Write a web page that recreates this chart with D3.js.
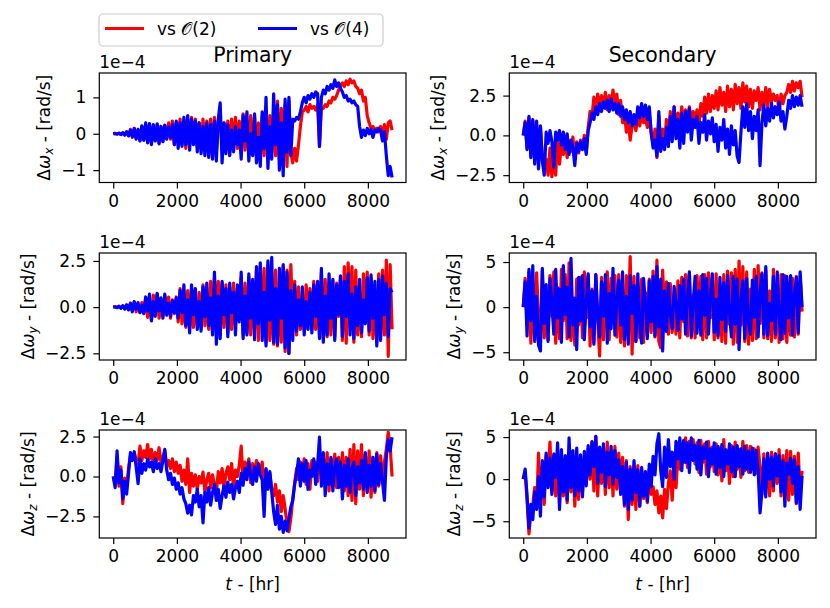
<!DOCTYPE html>
<html><head><meta charset="utf-8">
<script src="https://cdn.jsdelivr.net/npm/d3@7"></script>
<style>body{margin:0;background:#fff} text{font-family:"DejaVu Sans",sans-serif;fill:#000}</style>
</head><body><svg id="c" width="830" height="608"></svg>
<script>
// time axis [hr], sampled every 60 hr (0 .. 8760)
const time = d3.range(0, 8761, 60);
const xTicks = [0, 2000, 4000, 6000, 8000];
const seriesNames = ["vs \u{1D4AA}(2)", "vs \u{1D4AA}(4)"];
const columnTitles = ["Primary", "Secondary"];
const components = ["x", "y", "z"];

// values in units of 1e-4 rad/s
const primaryX_O2 = [
0,0.01,-0.01,0.01,-0.02,0.02,-0.04,0.06,-0.05,0.12,
-0.1,0.14,-0.12,0.1,-0.18,0.2,-0.16,0.25,-0.2,0.22,
-0.25,0.22,-0.18,0.25,-0.25,0.2,-0.2,0.22,-0.12,0.3,
-0.15,0.35,-0.3,0.3,-0.25,0.4,-0.3,0.3,-0.4,0.35,
-0.3,0.45,-0.2,0.4,-0.35,0.3,-0.4,0.4,-0.3,0.35,
-0.5,0.4,-0.4,0.45,-0.5,0.35,0.5,-0.45,0.3,-0.3,
0.35,-0.4,0.4,-0.3,0.45,-0.4,0.35,-0.5,0.55,-0.45,
0.3,-0.5,0.5,-0.4,0.45,-0.6,0.3,-0.65,0.5,-0.6,
0.6,-0.7,0.5,-0.5,0.65,-0.6,0.9,-0.7,0.7,-0.8,
0.8,-0.9,0.9,-0.5,-0.8,-0.4,-0.75,-0.3,0.2,0.6,
0.65,0.75,0.6,0.8,0.7,0.75,0.65,0.8,-0.35,0.7,
0.7,0.8,0.75,0.9,0.85,1.0,0.95,1.05,1.2,1.3,
1.4,1.3,1.45,1.35,1.5,1.4,1.45,1.3,1.25,1.1,
1.2,0.9,1.0,0.5,0.3,0.15,0.2,0.1,0.15,0.05,
0.2,0.0,0.25,-0.15,0.3,0.35,0.1];
const primaryX_O4 = [
0,0.01,-0.01,0.02,-0.02,0.03,-0.03,0.05,-0.06,0.1,
-0.08,0.15,-0.15,0.12,-0.2,0.22,-0.18,0.3,-0.25,0.28,
-0.3,0.25,-0.2,0.27,-0.28,0.2,-0.22,0.24,-0.15,0.18,
-0.1,0.25,-0.3,0.35,-0.4,0.3,-0.35,0.45,-0.3,0.5,
-0.45,0.4,-0.3,0.35,-0.5,0.3,-0.55,0.2,-0.6,0.3,
-0.65,0.25,-0.7,0.35,-0.75,0.4,0.85,-0.8,0.3,-0.55,
0.25,-0.6,0.1,-0.5,0.2,-0.3,0.1,-0.7,0.5,-0.2,
0.6,-0.75,0.0,-0.6,0.55,-0.8,-0.1,-0.9,0.6,-0.4,
1.0,-0.95,0.2,-0.7,1.1,-0.3,0.8,-1.0,0.3,-1.15,
0.95,-0.5,1.0,-0.6,0.4,0.35,0.45,0.4,0.6,0.85,
1.0,0.85,1.05,0.95,1.1,1.0,1.15,1.1,-0.35,1.0,
1.2,1.1,1.3,1.2,1.35,1.25,1.48,1.3,1.4,1.25,
1.15,1.0,1.05,0.9,0.95,0.85,0.9,0.8,0.75,0.2,
-0.1,0.1,-0.05,0.15,0.0,0.12,-0.1,0.1,0.05,0.15,
0.1,-0.2,0.05,-0.6,-1.15,-0.9,-1.2];

const secondaryX_O2 = [
0,0.9,-0.8,1.1,-1.3,0.9,-1.5,0.7,-1.8,0.5,
-1.4,-2.3,-1.5,-2.5,-0.8,-2.6,-1.2,-2.5,0.1,-1.8,
-0.5,-1.2,-0.2,-1.4,-0.6,-1.0,-0.1,-1.5,-0.4,-1.1,
-0.3,-0.8,0.0,-1.0,0.5,1.5,1.2,2.4,1.5,2.6,
1.8,2.5,1.9,2.7,1.6,2.5,2.0,2.85,1.7,2.6,
1.3,2.2,0.8,1.4,0.2,1.0,-0.3,0.6,0.9,0.3,
1.2,0.6,1.4,0.8,1.1,0.5,1.3,0.1,-0.6,0.4,
-1.4,1.2,-0.8,0.4,-0.6,1.0,-0.3,1.5,0.1,1.8,
0.3,1.4,0.5,1.8,0.7,1.6,0.9,1.8,0.8,1.5,
1.0,1.6,0.6,2.0,1.2,2.4,1.4,2.6,1.5,2.5,
1.7,2.8,1.6,3.0,1.9,2.7,1.5,3.1,1.8,2.9,
1.6,3.2,2.0,3.0,1.7,3.3,2.1,3.1,1.8,2.9,
1.7,2.8,2.2,3.0,1.6,2.7,1.9,3.0,1.8,2.9,
2.1,2.6,2.2,2.5,1.4,2.6,2.0,2.5,2.7,3.2,
2.7,3.4,2.8,3.3,3.0,3.4,2.4];
const secondaryX_O4 = [
0,0.8,-0.9,1.2,-1.4,1.0,-1.8,0.9,-2.1,0.6,
-1.6,-2.5,0.2,-0.5,0.3,-0.4,-2.0,0.2,-0.3,0.3,
-0.6,0.2,-0.9,0.1,-1.2,-0.3,-0.8,-1.9,-0.5,-1.0,
-0.4,-0.9,-0.2,-1.2,0.3,0.8,1.4,1.0,1.8,1.3,
2.0,1.5,2.1,1.7,2.2,1.5,2.3,1.6,2.0,1.4,
2.0,1.2,1.8,1.0,1.6,0.8,1.5,0.6,1.3,0.7,
1.8,1.1,2.0,1.2,1.9,1.0,1.8,0.2,-0.8,-0.3,
-1.3,1.5,-1.0,-0.2,-0.9,0.5,-0.7,1.2,-0.4,1.8,
-0.2,1.0,-0.8,1.4,-0.5,1.5,0.2,1.7,-0.3,1.0,
0.5,1.2,-0.5,0.8,0.2,1.3,-0.3,0.9,0.1,1.1,
-0.4,0.7,-1.0,0.5,-0.3,1.0,-0.8,0.4,-1.2,0.6,
-0.6,0.3,-1.3,-1.7,0.2,1.8,0.5,2.0,0.3,1.5,
-0.2,1.2,0.3,1.6,-1.9,0.8,1.9,0.6,1.7,0.9,
2.0,1.1,1.8,1.3,2.1,0.9,1.5,0.4,1.2,2.2,
1.7,2.5,1.8,2.4,1.9,2.5,1.8];

const primaryY_O2 = [
0,0.02,-0.02,0.04,-0.05,0.07,-0.09,0.12,-0.13,0.22,
-0.2,0.28,-0.25,0.1,-0.28,0.25,-0.3,0.5,-0.55,0.3,
-0.7,0.65,-0.2,0.7,-0.6,0.2,-0.5,0.6,-0.45,0.55,
-0.6,0.4,-0.35,0.55,-0.8,1.0,-0.9,0.3,-1.1,0.9,
-1.2,1.0,-1.1,0.4,-1.0,0.8,-1.1,1.2,-1.0,0.3,
-1.2,1.4,-1.3,1.6,-0.5,1.4,-1.5,1.3,-1.1,1.2,
-1.4,0.4,-1.2,1.3,-1.0,1.0,-0.4,1.6,-1.5,1.3,
-1.4,1.6,-1.5,0.6,-1.2,2.0,-1.8,2.2,-0.7,2.1,
-1.9,2.3,-1.8,0.9,-2.0,2.0,-2.1,0.8,-1.9,2.2,
-2.4,2.0,-2.5,2.3,-0.8,1.4,-1.5,1.1,-1.2,0.4,
-1.3,1.2,-0.5,1.0,-1.2,1.4,-1.2,0.6,-1.5,1.9,
-1.7,1.5,-1.6,0.7,-1.5,1.4,-1.6,1.3,-0.5,1.6,
-1.8,2.2,-1.95,2.4,-0.7,2.2,-1.9,2.0,-1.5,0.8,
-1.6,1.8,-0.6,1.9,-1.5,1.6,-1.7,0.5,-1.9,1.8,
-1.6,2.0,-1.5,2.55,-2.66,2.3,-1.2];
const primaryY_O4 = [
0,0.02,-0.03,0.05,-0.06,0.08,-0.1,0.12,-0.15,0.2,
-0.25,0.3,-0.1,0.25,-0.3,0.1,-0.35,0.55,-0.2,0.7,
-0.75,0.3,-0.5,0.75,-0.2,0.5,-0.6,0.7,-0.4,0.2,
-0.5,0.35,-0.3,0.5,-0.6,0.9,-0.3,1.2,-1.0,0.4,
-1.4,1.2,-0.4,1.0,-1.2,0.3,-1.3,1.1,-0.5,1.3,
-1.0,0.5,-1.5,1.9,-2.0,0.6,-1.7,1.4,-0.4,1.0,
-1.6,1.3,-0.3,0.8,-1.5,1.2,-0.8,1.9,-1.7,0.6,
-1.5,1.8,-0.6,1.5,-1.76,2.2,-0.9,2.4,-1.8,0.8,
-2.1,2.5,-0.7,2.7,-1.9,1.0,-2.0,2.1,-0.6,2.3,
-2.2,1.9,-2.5,0.9,-1.8,1.2,-1.3,0.4,-1.0,1.1,
-1.5,0.3,-1.2,0.8,-1.4,1.2,-0.5,1.4,-1.7,2.1,
-1.9,0.6,-1.5,1.8,-0.6,1.5,-1.8,1.2,-0.4,1.7,
-1.6,1.4,-0.5,1.8,-1.5,0.7,-1.7,1.1,-1.0,1.5,
-1.4,0.4,-0.9,1.6,-1.3,1.75,-0.6,1.4,-2.1,1.5,
-1.8,1.7,-0.4,1.3,-1.6,1.0,0.8];

const secondaryY_O2 = [
0,3.2,-2.0,3.9,-4.0,2.5,-3.6,3.8,-1.2,-4.0,
4.0,-3.4,1.5,-3.6,3.5,-1.0,3.9,-4.0,2.2,-3.5,
4.2,-1.5,3.6,-3.5,4.9,-3.7,0.8,-4.2,3.1,-2.0,
3.3,-3.4,3.9,-1.2,3.4,-4.3,2.0,-3.9,3.6,-1.6,
-5.4,3.3,-3.6,1.4,3.9,-3.6,3.2,-1.8,3.5,-3.3,
3.6,-3.9,1.5,-4.3,3.5,-2.0,5.6,-5.2,3.4,-3.8,
2.2,-3.4,3.1,-3.9,1.6,-3.1,3.1,-2.8,4.0,-3.3,
5.2,-3.8,-4.5,4.1,-1.4,2.8,-3.0,2.6,-2.8,1.2,
-3.0,2.9,-3.4,3.3,-1.6,3.6,-3.2,3.7,-3.4,1.4,
-3.4,3.5,-1.2,3.4,-3.6,3.6,-3.4,3.8,-1.2,3.2,
-3.6,3.7,-3.4,1.9,-3.8,3.6,-4.0,4.0,-1.9,3.8,
-4.1,4.2,-3.9,5.1,-2.0,4.5,-3.8,3.9,-4.1,2.0,
-3.7,4.2,-3.5,4.6,-1.8,3.8,-3.4,4.1,-3.5,1.8,
-3.8,4.2,-3.4,1.8,-3.9,3.6,-3.5,3.5,-3.9,1.4,
-3.1,3.2,-3.3,3.4,-3.0,3.4,-0.5];
const secondaryY_O4 = [
0,2.8,-3.2,4.2,-1.5,4.6,-3.8,1.2,-4.2,-4.85,
4.3,-1.8,2.5,-3.8,3.2,0.5,-3.0,4.2,-1.2,2.0,
-3.9,4.6,-0.8,2.2,-3.3,5.4,-2.0,1.0,-4.7,3.3,
-1.5,3.5,-3.6,0.6,3.7,-2.2,1.8,-4.1,3.6,-0.9,
-3.3,2.8,-1.0,3.6,-4.0,1.5,-2.4,4.3,-3.1,0.8,
3.0,-2.0,3.9,-3.6,1.2,-4.1,3.5,-0.7,2.4,-3.8,
3.7,-1.8,-4.0,3.2,0.4,-3.5,2.9,-1.6,3.4,-3.2,
4.5,-2.2,3.1,-4.85,1.8,-2.7,2.6,-0.8,-2.4,2.3,
0.5,-2.6,2.4,-1.3,3.1,-3.0,1.0,3.9,-3.2,0.6,
3.4,-2.9,1.8,-3.1,3.6,-0.9,3.2,-3.0,1.1,3.7,
-2.8,0.9,-3.2,3.3,-1.4,2.7,-2.7,3.5,-0.6,-3.3,
3.4,-1.9,3.1,-4.7,0.8,2.9,-3.5,3.2,-1.8,-3.0,
3.0,-1.1,3.4,-3.3,1.6,3.7,-3.0,4.5,-3.2,0.4,
-1.5,3.4,-3.0,3.9,-0.9,-3.6,3.6,-2.9,3.4,-1.2,
3.5,-3.1,1.4,3.3,-2.8,3.9,0.0];

const primaryZ_O2 = [
0,-0.5,1.2,-0.6,0.6,-1.7,-0.1,-0.8,0.5,1.3,
1.2,1.5,1.0,0.8,1.9,1.0,1.6,1.2,2.0,1.1,
1.7,0.8,1.5,1.0,1.8,0.9,1.2,1.6,0.6,1.0,
0.5,1.1,0.3,0.9,0.2,0.7,-0.3,0.4,-0.5,1.1,
-1.0,0.2,-0.6,0.1,-0.8,0.0,-0.4,0.27,-1.0,-0.2,
0.2,-0.7,0.1,-0.5,-1.0,0.3,-0.4,0.5,-0.8,0.2,
0.6,-0.2,0.8,-0.7,0.4,0.0,0.7,1.9,-0.3,0.9,
0.3,1.1,-0.4,0.8,0.2,1.0,0.6,0.3,0.9,-0.5,
0.4,-0.6,0.2,-0.8,-1.2,-0.5,-1.6,-0.9,-2.2,-1.2,
-2.0,-3.0,-3.45,-2.6,-1.4,-0.4,0.5,-0.2,0.9,0.2,
1.1,-0.5,0.8,-0.8,1.0,0.2,0.9,-0.3,1.2,0.4,
1.3,-0.6,1.5,-0.9,1.1,0.0,1.4,-0.7,1.2,-0.4,
1.5,-0.9,1.2,-1.2,1.7,-1.5,2.0,-1.7,1.6,-0.8,
2.0,-1.2,1.4,-0.9,1.6,-1.3,1.2,-1.0,1.5,-0.6,
1.3,-0.4,0.9,1.7,2.77,1.9,0.0];
const primaryZ_O4 = [
0,-0.7,1.6,-0.4,0.4,-1.4,-0.3,-1.1,0.2,1.5,
1.0,1.55,0.6,-0.45,1.1,0.2,0.8,0.4,1.1,0.6,
0.9,0.3,1.1,0.5,0.8,0.3,1.0,1.7,0.4,-0.2,
0.2,-0.5,-0.1,-0.8,-0.4,-1.1,-0.7,-1.4,-1.7,-2.3,
-1.8,-2.4,-1.2,-1.6,-0.8,-1.9,-1.2,-2.9,-1.0,-1.6,
-0.7,-1.8,-1.0,-0.5,-1.5,-0.8,-2.0,-1.2,-0.6,-1.3,
-0.35,-1.0,-0.5,-1.4,-0.7,-0.3,-1.0,0.2,-0.55,0.5,
-0.2,0.9,0.0,-0.5,0.6,-0.3,0.8,0.1,-0.2,-2.5,
0.5,-0.8,0.3,-1.0,-2.2,-3.0,-1.8,-3.3,-2.5,-3.5,
-2.8,-3.4,-2.6,-1.9,-1.5,-0.5,0.2,1.1,-0.6,0.8,
-0.3,1.0,-0.8,0.4,0.0,1.1,-0.5,0.7,2.46,-0.6,
1.5,-1.2,0.8,-0.5,1.2,-0.9,0.6,1.1,-0.7,0.9,
-1.4,0.7,-0.6,1.1,-1.0,0.5,0.9,-1.2,0.6,-0.4,
1.0,-0.8,1.5,-1.0,0.7,-0.6,1.2,-0.9,1.4,-0.5,
0.8,-0.3,-1.5,1.2,2.3,1.6,2.46];

const secondaryZ_O2 = [
0,0.8,-2.5,-6.5,-4.0,-3.0,-1.0,-3.5,3.1,-2.0,
1.5,-3.0,2.8,0.5,4.4,-1.5,2.6,-2.0,3.4,-3.0,
2.6,-2.0,2.2,-2.8,3.1,-1.5,2.5,-3.2,2.0,-2.4,
2.3,-1.8,2.7,-0.6,3.6,0.0,4.5,-1.4,5.1,-2.0,
3.0,-0.5,3.8,-1.8,4.4,-1.0,3.2,-2.0,3.9,-1.2,
3.1,-1.5,2.6,-3.2,2.2,-4.8,1.5,-3.0,1.3,-3.6,
1.6,-3.2,1.0,-2.3,0.5,-2.8,1.2,-1.8,-0.9,-3.0,
-1.4,-4.0,-2.0,-4.6,-1.2,-3.5,-0.5,1.0,-2.5,2.0,
-1.0,3.0,1.2,4.2,2.0,4.9,1.4,4.5,2.4,4.7,
1.8,4.3,0.8,4.6,2.0,4.2,0.6,4.5,1.5,3.8,
0.9,4.2,0.5,3.6,-0.2,4.7,1.0,3.3,-0.5,4.0,
0.3,4.4,1.2,3.5,0.2,4.5,1.0,4.0,0.8,3.9,
1.2,3.6,0.7,3.8,1.4,-1.8,3.0,-1.0,2.4,-2.0,
3.2,-1.4,3.0,-0.5,3.5,-2.0,2.8,-1.2,3.4,-2.5,
3.3,-1.8,2.7,-2.9,3.1,-1.5,1.0];
const secondaryZ_O4 = [
0,1.2,-2.0,-5.8,-3.0,-4.8,-1.5,-3.6,0.3,-4.4,
2.2,-2.1,3.1,-1.0,2.5,-1.8,3.0,0.2,4.3,-3.6,
3.5,-1.5,2.8,-2.5,4.9,-1.0,3.4,-2.0,3.7,-1.4,
2.9,-2.1,3.3,-0.8,4.0,0.5,4.4,1.5,5.1,-0.5,
3.8,0.8,4.2,-0.9,3.2,0.5,3.9,-0.6,3.4,0.2,
2.3,-1.8,1.5,-3.0,2.0,-3.6,1.2,-2.5,2.2,-1.6,
1.1,-3.2,1.4,-2.0,0.9,-2.6,1.8,-0.9,2.7,0.5,
4.2,5.4,1.0,-0.9,3.8,0.2,4.7,1.5,3.2,0.0,
4.5,2.4,4.9,1.0,4.6,2.0,4.3,0.8,4.9,2.2,
4.0,1.2,4.6,0.5,3.8,2.5,4.4,0.3,3.6,1.8,
4.3,0.6,3.9,1.4,4.1,0.3,3.5,1.8,4.2,0.9,
3.8,0.3,4.0,1.5,3.6,0.6,3.9,1.2,3.3,0.8,
3.7,0.5,3.4,1.0,-4.0,-1.5,2.4,-2.1,3.1,0.0,
2.6,-0.8,3.0,0.4,2.8,-1.5,2.2,-3.2,1.9,0.6,
2.5,-0.5,2.3,-2.8,1.5,-3.6,0.4];

// ---------- layout ----------
const svg = d3.select("#c");
const colL = [99.3, 509.3], colR = [406, 816];
const rowT = [73, 253, 430], rowB = [182.5, 360, 538];
const FS = 17;
const panels = [
 {c:0,r:0,o2:primaryX_O2,o4:primaryX_O4,dom:[-1.34,1.67],ticks:[-1,0,1],fmt:d3.format("d")},
 {c:1,r:0,o2:secondaryX_O2,o4:secondaryX_O4,dom:[-2.96,3.92],ticks:[-2.5,0,2.5],fmt:d3.format(".1f")},
 {c:0,r:1,o2:primaryY_O2,o4:primaryY_O4,dom:[-2.86,2.93],ticks:[-2.5,0,2.5],fmt:d3.format(".1f")},
 {c:1,r:1,o2:secondaryY_O2,o4:secondaryY_O4,dom:[-5.86,6.0],ticks:[-5,0,5],fmt:d3.format("d")},
 {c:0,r:2,o2:primaryZ_O2,o4:primaryZ_O4,dom:[-3.85,2.91],ticks:[-2.5,0,2.5],fmt:d3.format(".1f")},
 {c:1,r:2,o2:secondaryZ_O2,o4:secondaryZ_O4,dom:[-6.99,5.84],ticks:[-5,0,5],fmt:d3.format("d")}
];
const colors = ["#ff0000", "#0000ff"];
const LW = 3.2;

panels.forEach((p, k) => {
  const L = colL[p.c], R = colR[p.c], T = rowT[p.r], B = rowB[p.r];
  const x = d3.scaleLinear().domain([-438, 9198]).range([L, R]);
  const y = d3.scaleLinear().domain(p.dom).range([B, T]);
  const g = svg.append("g");
  const cid = "clip" + k;
  svg.append("clipPath").attr("id", cid).append("rect")
    .attr("x", L).attr("y", T).attr("width", R - L).attr("height", B - T);
  const line = d3.line().x((d, i) => x(time[i])).y(d => y(d)).curve(d3.curveLinear);
  [p.o2, p.o4].forEach((s, j) => {
    g.append("path").datum(s).attr("d", line).attr("clip-path", `url(#${cid})`)
      .attr("fill", "none").attr("stroke", colors[j]).attr("stroke-width", LW)
      .attr("stroke-linejoin", "round");
  });
  // frame
  g.append("rect").attr("x", L).attr("y", T).attr("width", R - L).attr("height", B - T)
    .attr("fill", "none").attr("stroke", "#000").attr("stroke-width", 1.2);
  // axes
  const gx = g.append("g").attr("transform", `translate(0,${B})`)
    .call(d3.axisBottom(x).tickValues(xTicks).tickFormat(d3.format("d")).tickSize(6).tickPadding(6));
  const gy = g.append("g").attr("transform", `translate(${L},0)`)
    .call(d3.axisLeft(y).tickValues(p.ticks).tickFormat(p.fmt).tickSize(6).tickPadding(7));
  [gx, gy].forEach(a => {
    a.select(".domain").remove();
    a.selectAll(".tick line").attr("stroke", "#000").attr("stroke-width", 1.2);
    a.selectAll(".tick text").attr("font-size", FS).attr("font-family", "DejaVu Sans").attr("fill", "#000");
  });
  // offset text
  g.append("text").attr("x", L).attr("y", T - 5).attr("font-size", FS).text("1e\u22124");
  // title
  if (p.r === 0) {
    g.append("text").attr("x", (L + R) / 2).attr("y", 62).attr("text-anchor", "middle")
      .attr("font-size", 20.4).text(columnTitles[p.c]);
  }
  // y label
  const bb = gy.node().getBBox();
  const lx = L + bb.x - 11, ly = (T + B) / 2;
  const yl = g.append("text").attr("transform", `translate(${lx},${ly}) rotate(-90)`)
    .attr("text-anchor", "middle").attr("font-size", FS);
  yl.append("tspan").text("\u0394");
  yl.append("tspan").attr("font-style", "italic").text("\u03c9");
  yl.append("tspan").attr("font-style", "italic").attr("font-size", 12).attr("dy", 3).text(components[p.r]);
  yl.append("tspan").attr("dy", -3).text(" - [rad/s]");
  // x label
  if (p.r === 2) {
    const xl = g.append("text").attr("x", (L + R) / 2).attr("y", 590)
      .attr("text-anchor", "middle").attr("font-size", FS);
    xl.append("tspan").attr("font-style", "italic").text("t");
    xl.append("tspan").text(" - [hr]");
  }
});

// legend
const lg = svg.append("g");
lg.append("rect").attr("x", 99).attr("y", 14).attr("width", 284).attr("height", 32).attr("rx", 4)
  .attr("fill", "#fff").attr("fill-opacity", 0.8).attr("stroke", "#cccccc").attr("stroke-width", 1.2);
const lx0 = [105, 258];
seriesNames.forEach((n, j) => {
  lg.append("line").attr("x1", lx0[j]).attr("x2", lx0[j] + 39).attr("y1", 28.5).attr("y2", 28.5)
    .attr("stroke", colors[j]).attr("stroke-width", LW);
  lg.append("text").attr("x", lx0[j] + 52).attr("y", 34.5).attr("font-size", FS).text(n);
});
</script></body></html>
